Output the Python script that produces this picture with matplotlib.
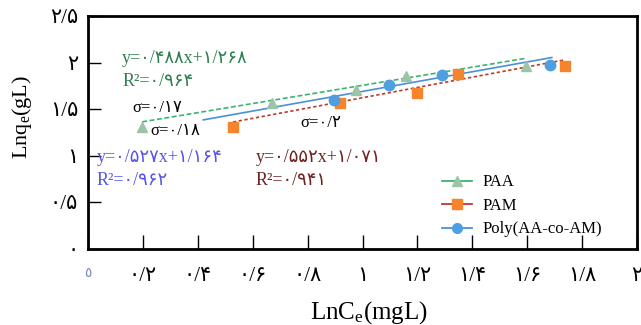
import numpy as np
import matplotlib
matplotlib.use("Agg")
import matplotlib.pyplot as plt
from matplotlib.lines import Line2D

plt.rcParams['mathtext.fontset'] = 'custom'
plt.rcParams['mathtext.rm'] = 'Liberation Serif'
plt.rcParams['mathtext.it'] = 'Liberation Serif:italic'

SERIF = ['Liberation Serif', 'DejaVu Sans']

# Data (LnCe, Lnqe)
paa_x = [0.197, 0.670, 0.976, 1.158, 1.596]
paa_y = [1.306, 1.563, 1.702, 1.852, 1.959]
pam_x = [0.528, 0.918, 1.199, 1.348, 1.738]
pam_y = [1.306, 1.563, 1.670, 1.874, 1.959]
poly_x = [0.896, 1.097, 1.290, 1.683]
poly_y = [1.595, 1.756, 1.863, 1.970]

# Linear fits as printed on the chart
slopes = [0.488, 0.552, 0.527]
intercepts = [1.268, 1.071, 1.164]
r2 = [0.964, 0.941, 0.962]
fit_ranges = [(0.197, 1.596), (0.528, 1.738), (0.42, 1.69)]
sigmas = ['0/17', '0/2', '0/18']

series_names = ['PAA', 'PAM', 'Poly(AA-co-AM)']
x_ticks = [0, 0.2, 0.4, 0.6, 0.8, 1.0, 1.2, 1.4, 1.6, 1.8, 2.0]
x_tick_labels = ['0', '0/2', '0/4', '0/6', '0/8', '1', '1/2', '1/4', '1/6', '1/8', '2']
y_ticks = [0, 0.5, 1.0, 1.5, 2.0, 2.5]
y_tick_labels = ['0', '0/5', '1', '1/5', '2', '2/5']

FA = str.maketrans('0123456789', '۰۱۲۳۴۵۶۷۸۹')


def fa(s):
    """Latin digits -> Persian digits"""
    return s.translate(FA)


def fa_num(v):
    return fa(('%g' % v).replace('.', '/'))


fig = plt.figure(figsize=(6.41, 3.25), dpi=100)
ax = fig.add_axes([88 / 641, 1 - 249 / 325, 549 / 641, 233 / 325])

# colours
marker_cols = ['#9cc4a6', '#f5842c', '#4f9ee0']
line_cols = ['#3cb371', '#c0392b', '#4a90d9']
text_cols = ['#2e7d4f', '#6e2222', '#5555e8']
styles = [(0, (3, 1.5)), (0, (2, 1.5)), '-']

# fit lines
for i in range(3):
    xs = np.array(fit_ranges[i])
    ax.plot(xs, slopes[i] * xs + intercepts[i], color=line_cols[i],
            ls=styles[i], lw=1.2, zorder=2)

# points
ax.plot(paa_x, paa_y, ls='none', marker='^', ms=7, color=marker_cols[0], zorder=3)
ax.plot(pam_x, pam_y, ls='none', marker='s', ms=7, color=marker_cols[1], zorder=3)
ax.plot(poly_x, poly_y, ls='none', marker='o', ms=7.5, color=marker_cols[2], zorder=3)

ax.set_xlim(0, 2)
ax.set_ylim(0, 2.5)

ax.set_xticks(x_ticks)
ax.set_xticklabels([fa(s) for s in x_tick_labels], family=SERIF, fontsize=15)
ax.set_yticks(y_ticks)
ax.set_yticklabels([fa(s) for s in y_tick_labels], family=SERIF, fontsize=15)
ax.tick_params(axis='x', direction='in', length=10, width=1, pad=13)
ax.tick_params(axis='y', direction='in', length=9, width=1, pad=7)
xl = ax.get_xticklabels()
xl[0].set_text('٥')
xl[0].set_color('#7b8bb0')
xl[0].set_fontsize(10)
ax.set_xticklabels(xl)
for sp in ax.spines.values():
    sp.set_linewidth(2)

ax.set_xlabel(r'LnC$_{\rm e}$(mgL)', family='Liberation Serif', fontsize=18, va='center')
ax.xaxis.set_label_coords(0.512, -0.275)
ax.set_ylabel(r'Lnq$_{\rm e}$(gL)', family='Liberation Serif', fontsize=16, va='center')
ax.yaxis.set_label_coords(-0.12, 0.567)

# equations (positions in axes fraction)
eq_pos = [(0.062, 0.816), (0.306, 0.391), (0.016, 0.391)]
for i in range(3):
    x0, y0 = eq_pos[i]
    ax.text(x0, y0, 'y=' + fa_num(slopes[i]) + 'x+' + fa_num(intercepts[i]),
            transform=ax.transAxes, color=text_cols[i], family=SERIF,
            fontsize=13, va='center', ha='left')
    ax.text(x0, y0 - 0.097, 'R²=' + fa_num(r2[i]),
            transform=ax.transAxes, color=text_cols[i], family=SERIF,
            fontsize=13, va='center', ha='left')

sig_pos = [(0.080, 0.605), (0.387, 0.541), (0.113, 0.506)]
for s, (x0, y0) in zip(sigmas, sig_pos):
    ax.text(x0, y0, 'σ=' + fa(s), transform=ax.transAxes, color='black',
            family=SERIF, fontsize=12, va='center', ha='left')

handles = [
    Line2D([], [], color=line_cols[0], marker='^', ms=7, mfc=marker_cols[0], mec=marker_cols[0], lw=1.3),
    Line2D([], [], color=line_cols[1], marker='s', ms=7, mfc=marker_cols[1], mec=marker_cols[1], lw=1.3),
    Line2D([], [], color=line_cols[2], marker='o', ms=7, mfc=marker_cols[2], mec=marker_cols[2], lw=1.3),
]
ax.legend(handles, series_names, loc='upper left', bbox_to_anchor=(0.645, 0.32),
          frameon=False, prop={'family': 'Liberation Serif', 'size': 12},
          handlelength=1.8, handletextpad=0.6, labelspacing=0.45,
          borderpad=0, borderaxespad=0)

fig.savefig('out.png', dpi=100)
